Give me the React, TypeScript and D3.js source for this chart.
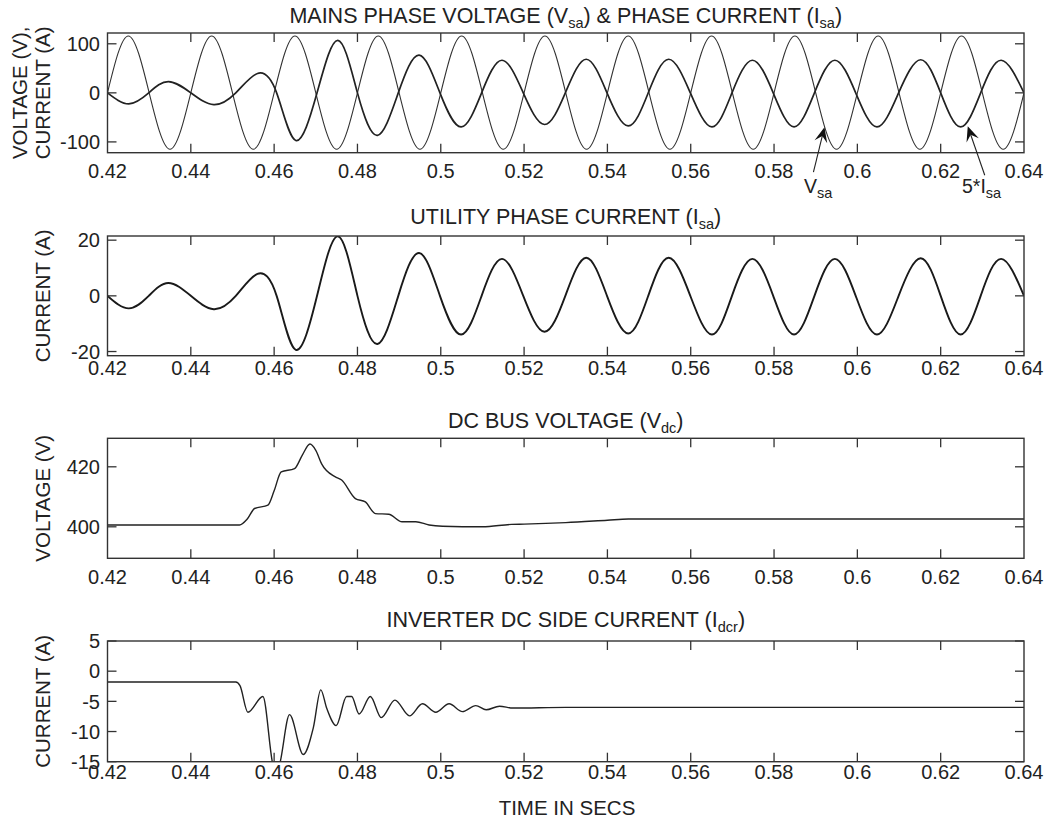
import * as d3 from "d3";
import React from "react";

// time axis shared by all four panels
const xTicks = [0.42, 0.44, 0.46, 0.48, 0.5, 0.52, 0.54, 0.56, 0.58, 0.6, 0.62, 0.64];

// mains phase voltage, read at quarter periods
const vsaTime = [0.42, 0.425, 0.43, 0.435, 0.44, 0.445, 0.45, 0.455, 0.46, 0.465, 0.47, 0.475, 0.48, 0.485, 0.49, 0.495,
  0.5, 0.505, 0.51, 0.515, 0.52, 0.525, 0.53, 0.535, 0.54, 0.545, 0.55, 0.555, 0.56, 0.565, 0.57, 0.575, 0.58, 0.585,
  0.59, 0.595, 0.6, 0.605, 0.61, 0.615, 0.62, 0.625, 0.63, 0.635, 0.64];
const vsaValue = [0, 116, 0, -115, 0, 116, 0, -115, 0, 116, 0, -115, 0, 116, 0, -115,
  0, 116, 0, -115, 0, 116, 0, -115, 0, 116, 0, -115, 0, 116, 0, -115, 0, 116,
  0, -115, 0, 116, 0, -115, 0, 116, 0, -115, 0];

// utility phase current (peaks and zero crossings)
const isaTime = [0.42, 0.4251, 0.4299, 0.4346, 0.44, 0.4455, 0.4508, 0.456, 0.4606, 0.4652, 0.4703, 0.4753, 0.48,
  0.4848, 0.4898, 0.4948, 0.4998, 0.5049, 0.5098, 0.5147, 0.5198, 0.5249, 0.5299, 0.5349, 0.5399, 0.545, 0.5498,
  0.5547, 0.5599, 0.5651, 0.5699, 0.5748, 0.5798, 0.5848, 0.5897, 0.5946, 0.5996, 0.6047, 0.6099, 0.6152, 0.62,
  0.6248, 0.6296, 0.6345, 0.64];
const isaValue = [0, -4.5, 0, 4.6, 0, -4.8, 0, 7.9, 0, -19.4, 0, 21.4, 0,
  -17.3, 0, 15.4, 0, -13.9, 0, 13.3, 0, -12.9, 0, 13.7, 0, -13.5, 0,
  13.7, 0, -13.9, 0, 13.3, 0, -13.9, 0, 13.3, 0, -13.9, 0, 13.5, 0,
  -13.9, 0, 13.3, 0];

// dc bus voltage
const vdcTime = [0.42, 0.4517, 0.4535, 0.4553, 0.4585, 0.46, 0.4617, 0.4649, 0.4668, 0.4686, 0.47, 0.4714, 0.4746,
  0.4762, 0.4795, 0.4819, 0.4843, 0.4875, 0.4907, 0.494, 0.4972, 0.5004, 0.51, 0.517, 0.52, 0.53, 0.54, 0.545, 0.64];
const vdcValue = [400.6, 400.6, 402.5, 406.1, 407.2, 412, 418.3, 419.4, 424, 427.6, 425.5, 421, 416.7,
  415.6, 409.4, 408.3, 404.4, 404.2, 401.7, 401.7, 400.6, 400.2, 400, 400.8, 400.9, 401.4, 402.2, 402.6, 402.6];

// inverter dc side current
const idcrTime = [0.42, 0.4508, 0.4518, 0.4537, 0.4573, 0.4597, 0.4605, 0.4613, 0.4637, 0.467, 0.4694, 0.4712,
  0.4726, 0.4749, 0.4774, 0.4786, 0.4804, 0.4831, 0.4857, 0.489, 0.4925, 0.4956, 0.4988, 0.502, 0.5052, 0.5084,
  0.5109, 0.5141, 0.5173, 0.53, 0.64];
const idcrValue = [-1.8, -1.8, -2.4, -6.8, -4.2, -15.5, -17, -15.5, -7.2, -13.8, -9.4, -3.1,
  -6.1, -9.0, -4.2, -4.2, -7.1, -4.2, -7.7, -4.8, -7.4, -5.4, -6.8, -5.4, -6.7, -5.7,
  -6.4, -5.8, -6.1, -6.0, -6.0];

const pair = (t: number[], v: number[], k = 1) => t.map((d, i) => [d, v[i] * k] as [number, number]);

const LEFT = 107.5;
const RIGHT = 1024;
const FONT = "'Liberation Sans', Arial, sans-serif";
const INK = "#222";

const x = d3.scaleLinear().domain([0.42, 0.64]).range([LEFT, RIGHT]);

const Sub = ({ main, sub, after }: { main: string; sub: string; after?: string }) => (
  <>
    {main}
    <tspan fontSize={14.5} dy={5}>{sub}</tspan>
    <tspan dy={-5}>{after ?? ""}</tspan>
  </>
);

function Panel(props: {
  id: string; top: number; bottom: number; domain: [number, number]; yTicks: number[];
  labelY: number; title: React.ReactNode; titleY: number; ylabel: string[];
  series: { data: [number, number][]; curve: d3.CurveFactory; width: number; color: string }[];
}) {
  const { id, top, bottom, domain, yTicks, labelY, title, titleY, ylabel, series } = props;
  const y = d3.scaleLinear().domain(domain).range([bottom, top]);
  const tick = 9;
  const mid = (top + bottom) / 2;
  return (
    <g>
      <defs>
        <clipPath id={`clip-${id}`}>
          <rect x={LEFT} y={top} width={RIGHT - LEFT} height={bottom - top} />
        </clipPath>
      </defs>
      <text x={(LEFT + RIGHT) / 2} y={titleY} textAnchor="middle" fontSize={21.5} fill={INK}>{title}</text>
      <g clipPath={`url(#clip-${id})`}>
        {series.map((s, i) => {
          const line = d3.line<[number, number]>().x(d => x(d[0])).y(d => y(d[1])).curve(s.curve);
          return <path key={i} d={line(s.data) ?? ""} fill="none" stroke={s.color} strokeWidth={s.width}
            strokeLinejoin="round" />;
        })}
      </g>
      {xTicks.slice(1, -1).map(t => (
        <g key={t} stroke="#333" strokeWidth={1.3}>
          <line x1={x(t)} x2={x(t)} y1={bottom} y2={bottom - tick} />
          <line x1={x(t)} x2={x(t)} y1={top} y2={top + tick} />
        </g>
      ))}
      {yTicks.map(v => (
        <g key={v}>
          <line x1={LEFT} x2={LEFT + tick} y1={y(v)} y2={y(v)} stroke="#333" strokeWidth={1.3} />
          <line x1={RIGHT} x2={RIGHT - tick} y1={y(v)} y2={y(v)} stroke="#333" strokeWidth={1.3} />
          <text x={100} y={y(v)} dy="0.36em" textAnchor="end" fontSize={20} fill={INK}>{v}</text>
        </g>
      ))}
      {xTicks.map(t => (
        <text key={t} x={x(t)} y={labelY} textAnchor="middle" fontSize={20} fill={INK}>{d3.format("~g")(t)}</text>
      ))}
      <rect x={LEFT} y={top} width={RIGHT - LEFT} height={bottom - top} fill="none" stroke="#333" strokeWidth={1.4} />
      {ylabel.length === 1 ? (
        <text transform={`translate(50,${mid}) rotate(-90)`} textAnchor="middle" fontSize={20.5} fill={INK}>{ylabel[0]}</text>
      ) : (
        <g>
          <text transform={`translate(27,${mid}) rotate(-90)`} textAnchor="middle" fontSize={20.5} fill={INK}>{ylabel[0]}</text>
          <text transform={`translate(49.5,${mid}) rotate(-90)`} textAnchor="middle" fontSize={20.5} fill={INK}>{ylabel[1]}</text>
        </g>
      )}
    </g>
  );
}

function Arrow({ hx, hy, tx, ty }: { hx: number; hy: number; tx: number; ty: number }) {
  const a = Math.atan2(hy - ty, hx - tx);
  const len = 15, half = 6.5, notch = 9;
  const p = (d: number, s: number) =>
    [hx - d * Math.cos(a) - s * Math.sin(a), hy - d * Math.sin(a) + s * Math.cos(a)];
  const pts = [[hx, hy], p(len, half), p(notch, 0), p(len, -half)];
  return (
    <g>
      <line x1={tx} y1={ty} x2={p(notch, 0)[0]} y2={p(notch, 0)[1]} stroke="#222" strokeWidth={1.1} />
      <polygon points={pts.map(q => q.join(",")).join(" ")} fill="#111" />
    </g>
  );
}

export default function App() {
  const y1 = d3.scaleLinear().domain([-122, 122]).range([152.7, 33]);
  return (
    <svg width={1058} height={822} style={{ position: "absolute", left: 0, top: 0, background: "#fff" }}
      fontFamily={FONT}>
      <rect width={1058} height={822} fill="#fff" />
      <Panel id="p1" top={33} bottom={152.7} domain={[-122, 122]} yTicks={[-100, 0, 100]} labelY={178}
        titleY={23}
        title={<><Sub main="MAINS PHASE VOLTAGE (V" sub="sa" after=") & PHASE CURRENT (I" /><tspan fontSize={14.5} dy={5}>sa</tspan><tspan dy={-5}>)</tspan></>}
        ylabel={["VOLTAGE (V),", "CURRENT (A)"]}
        series={[
          { data: pair(vsaTime, vsaValue), curve: d3.curveNatural, width: 1.1, color: "#333" },
          { data: pair(isaTime, isaValue, 5), curve: d3.curveNatural, width: 1.7, color: "#222" },
        ]} />
      <Panel id="p2" top={236} bottom={355.7} domain={[-21.5, 21.5]} yTicks={[-20, 0, 20]} labelY={375}
        titleY={224} title={<Sub main="UTILITY PHASE CURRENT (I" sub="sa" after=")" />}
        ylabel={["CURRENT (A)"]}
        series={[{ data: pair(isaTime, isaValue), curve: d3.curveNatural, width: 1.9, color: "#1a1a1a" }]} />
      <Panel id="p3" top={438.3} bottom={558.3} domain={[389.5, 429.5]} yTicks={[400, 420]} labelY={584}
        titleY={428} title={<Sub main="DC BUS VOLTAGE (V" sub="dc" after=")" />}
        ylabel={["VOLTAGE (V)"]}
        series={[{ data: pair(vdcTime, vdcValue), curve: d3.curveMonotoneX, width: 1.4, color: "#222" }]} />
      <Panel id="p4" top={641} bottom={761.7} domain={[-15, 5]} yTicks={[-15, -10, -5, 0, 5]} labelY={779}
        titleY={627} title={<Sub main="INVERTER DC SIDE CURRENT (I" sub="dcr" after=")" />}
        ylabel={["CURRENT (A)"]}
        series={[{ data: pair(idcrTime, idcrValue), curve: d3.curveMonotoneX, width: 1.4, color: "#222" }]} />
      <text x={567} y={815} textAnchor="middle" fontSize={20.5} fill={INK}>TIME IN SECS</text>

      <Arrow hx={x(0.5921)} hy={y1(-70)} tx={x(0.5921) - 11} ty={y1(-70) + 45} />
      <text x={804} y={193} fontSize={19.5} fill={INK}><Sub main="V" sub="sa" /></text>
      <Arrow hx={x(0.6265)} hy={y1(-68)} tx={x(0.6265) + 17} ty={y1(-68) + 49} />
      <text x={962} y={193} fontSize={19.5} fill={INK}><Sub main="5*I" sub="sa" /></text>
    </svg>
  );
}
